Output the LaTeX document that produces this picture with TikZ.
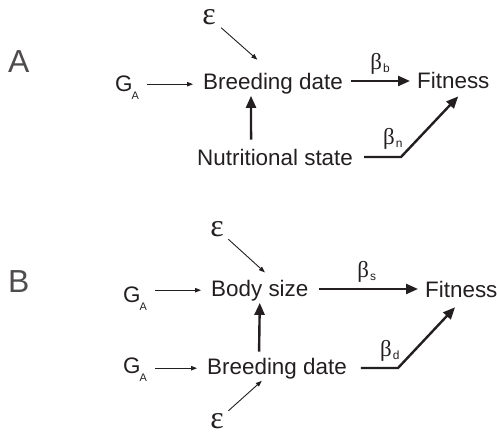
\documentclass[tikz,border=0pt]{standalone}
\usepackage{fontspec}
\setmainfont{Liberation Sans}
\newfontfamily\grk{Liberation Serif}
\usetikzlibrary{arrows.meta}
\definecolor{ink}{HTML}{231F20}
\newcommand\gsubA{G\kern-1bp\raisebox{-8bp}{\fontsize{11}{11}\selectfont A}}
\newcommand\bsub[1]{{\grk\fontsize{23}{23}\selectfont β}\kern1bp\raisebox{-3bp}{\fontsize{12}{12}\selectfont #1}}
\tikzset{
  txt/.style={inner sep=0pt, anchor=base west, text=ink, font=\fontsize{22.5}{27}\selectfont},
  panel/.style={inner sep=0pt, anchor=base west, text=ink!80, font=\fontsize{32}{36}\selectfont},
  lbl/.style={inner sep=0pt, text=ink},
  epsnode/.style={inner sep=0pt, text=ink, font=\grk\fontsize{32}{32}\selectfont},
  lightarrow/.style={draw=ink, line width=.9bp, -{Triangle[length=6bp,width=4.5bp]}},
  heavyarrow/.style={draw=ink, line width=2.4bp, -{Triangle[length=12bp,width=10bp]}},
}
\begin{document}
\begin{tikzpicture}[x=1bp, y=-1bp]
  \useasboundingbox (0,0) rectangle (497,436);
  % panel A
  \node [panel] (pA) at (8,73) {A};
  \node [txt] (gA) at (115,92) {\gsubA};
  \node [txt] (bdA) at (203,90) {Breeding date};
  \node [txt] (fitA) at (417,89) {Fitness};
  \node [txt] (nsA) at (197,166) {Nutritional state};
  \node [epsnode] (eA) at (209,17) {ε};
  \coordinate (kA) at (401,157);
  \draw [lightarrow, shorten <=8bp, shorten >=10bp] (gA.east |- bdA.west) -- (bdA.west);
  \draw [lightarrow, shorten <=7bp, shorten >=21bp] (eA) -- (bdA.north);
  \draw [heavyarrow, shorten <=8bp, shorten >=7bp] (bdA.east |- fitA.west)
    -- node [lbl, midway, above=5bp] (bb) {\bsub{b}} (fitA.west);
  \draw [heavyarrow, shorten <=10bp, shorten >=1bp] ([xshift=-24bp]nsA.north) -- ([xshift=-22bp]bdA.south);
  \draw [heavyarrow, shorten <=11bp, shorten >=9.6bp, line join=miter] (nsA.east |- kA)
    -- node [lbl, pos=.83, above=6bp] (bn) {\bsub{n}} (kA) -- ([xshift=11.5bp]fitA.south);
  % panel B
  \node [panel] (pB) at (8,292) {B};
  \node [txt] (gB1) at (123,302) {\gsubA};
  \node [txt] (bsB) at (211,296) {Body size};
  \node [txt] (fitB) at (425,297) {Fitness};
  \node [txt] (gB2) at (123,373) {\gsubA};
  \node [txt] (bdB) at (207,374) {Breeding date};
  \node [epsnode] (eB1) at (217,229) {ε};
  \node [epsnode] (eB2) at (217,421) {ε};
  \coordinate (kB) at (398,368);
  \draw [lightarrow, shorten <=8bp, shorten >=10bp] (gB1.east |- bsB.west) -- (bsB.west);
  \draw [lightarrow, shorten <=8bp, shorten >=10bp] (gB2.east |- bdB.west) -- (bdB.west);
  \draw [lightarrow, shorten <=6bp, shorten >=10.7bp] (eB1) -- ([xshift=13bp]bsB.north);
  \draw [lightarrow, shorten <=6bp, shorten >=3bp] (eB2) -- ([xshift=-13bp]bdB.south);
  \draw [heavyarrow, shorten <=10.5bp, shorten >=7bp] (bsB.east |- fitB.west)
    -- node [lbl, midway, above=5bp] (bs) {\bsub{s}} (fitB.west);
  \draw [heavyarrow, shorten <=6bp, shorten >=2bp] ([xshift=-18bp]bdB.north) -- (bsB.south);
  \draw [heavyarrow, shorten <=14bp, shorten >=13.5bp, line join=miter] (bdB.east |- kB)
    -- node [lbl, pos=.84, above=5bp] (bd) {\bsub{d}} (kB) -- ([xshift=3bp]fitB.south);
\end{tikzpicture}
\end{document}
